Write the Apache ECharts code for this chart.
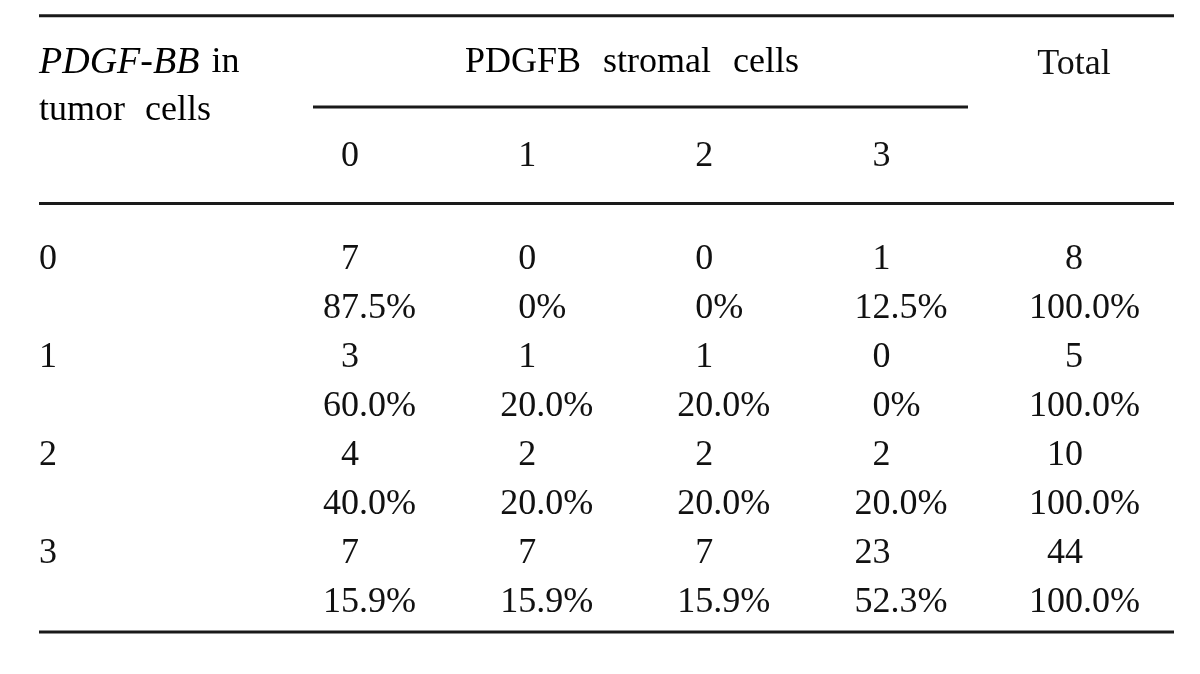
<!DOCTYPE html>
<html><head><meta charset="utf-8">
<script src="https://cdn.jsdelivr.net/npm/echarts@6/dist/echarts.min.js"></script>
<style>html,body{margin:0;padding:0;background:#fff}#c{width:1200px;height:674px}</style>
</head><body><div id="c"></div>
<script>
// ---- data ----
const rowLabels = ['0', '1', '2', '3'];
const colLabels = ['0', '1', '2', '3'];
const totalLabel = ['Total'];
const counts = [[7, 0, 0, 1], [3, 1, 1, 0], [4, 2, 2, 2], [7, 7, 7, 23]];
const percents = [[87.5, 0, 0, 12.5], [60.0, 20.0, 20.0, 0], [40.0, 20.0, 20.0, 20.0], [15.9, 15.9, 15.9, 52.3]];
const totals = [8, 5, 10, 44];
const totalPercents = [100.0, 100.0, 100.0, 100.0];
const rowHeaderItalic = 'PDGF-BB';
const rowHeaderRest = 'in';
const rowHeaderLine2 = 'tumor cells';
const groupHeader = 'PDGFB stromal cells';

// ---- style ----
const FONT = 'Liberation Serif';
const FS = 36;
const INK = '#111111';
const HALF_DIGIT = FS * 0.25;

function fmtPct(v) { return v === 0 ? '0%' : v.toFixed(1) + '%'; }
function parts(t) { const m = t.match(/^(\d+)(.*)$/); return [m[1], m[2]]; }

const subRows = rowLabels.flatMap(r => [r + '|n', r + '|p']);

// split every cell text at the end of its integer part (decimal alignment)
const cellInt = [], cellFrac = [], totInt = [], totFrac = [];
function addCell(intArr, fracArr, x, y, text) {
  const [a, b] = parts(text);
  intArr.push({ value: [x, y], txt: a });
  if (b) fracArr.push({ value: [x, y], txt: b });
}
rowLabels.forEach((r, ri) => {
  colLabels.forEach((c, ci) => {
    addCell(cellInt, cellFrac, ci, 2 * ri, String(counts[ri][ci]));
    addCell(cellInt, cellFrac, ci, 2 * ri + 1, fmtPct(percents[ri][ci]));
  });
  addCell(totInt, totFrac, 0, 2 * ri, String(totals[ri]));
  addCell(totInt, totFrac, 0, 2 * ri + 1, fmtPct(totalPercents[ri]));
});

const txt = { fontFamily: FONT, fontSize: FS, color: INK };
const mkLabel = align => Object.assign({
  show: true, position: 'inside', align: align, verticalAlign: 'middle',
  offset: [HALF_DIGIT, 0], opacity: 1,
  formatter: p => p.data.txt
}, txt);

const TOP = 235, H = 392;
const chart = echarts.init(document.getElementById('c'), null, { renderer: 'canvas' });
const L = 3;
const rule = (x1, x2, y) => ({ type: 'line', shape: { x1, y1: y, x2, y2: y }, style: { stroke: '#1a1a1a', lineWidth: L }, silent: true });
const textSeries = (xi, data, align) => ({
  type: 'scatter', xAxisIndex: xi, yAxisIndex: xi, symbolSize: 0, silent: true,
  itemStyle: { opacity: 1 }, data: data, label: mkLabel(align), emphasis: { disabled: true }
});

chart.setOption({
  animation: false,
  backgroundColor: '#ffffff',
  grid: [
    { left: 261.5, width: 708.5, top: TOP, height: H, outerBoundsMode: 'none' },
    { left: 974, width: 200, top: TOP, height: H, outerBoundsMode: 'none' }
  ],
  xAxis: [
    { gridIndex: 0, type: 'category', data: colLabels, position: 'top', boundaryGap: true,
      axisLine: { show: false }, axisTick: { show: false }, splitLine: { show: false },
      axisLabel: Object.assign({ margin: 60.2 }, txt) },
    { gridIndex: 1, type: 'category', data: totalLabel, position: 'top', boundaryGap: true,
      axisLine: { show: false }, axisTick: { show: false }, splitLine: { show: false },
      axisLabel: Object.assign({ margin: 152.2 }, txt) }
  ],
  yAxis: [
    { gridIndex: 0, type: 'category', data: subRows, inverse: true, boundaryGap: true,
      axisLine: { show: false }, axisTick: { show: false }, splitLine: { show: false },
      axisLabel: Object.assign({ align: 'left', margin: 222.5,
        formatter: v => v.endsWith('|n') ? v.split('|')[0] : '' }, txt) },
    { gridIndex: 1, type: 'category', data: subRows, inverse: true, boundaryGap: true, show: false }
  ],
  series: [
    textSeries(0, cellInt, 'right'),
    textSeries(0, cellFrac, 'left'),
    textSeries(1, totInt, 'right'),
    textSeries(1, totFrac, 'left')
  ],
  graphic: [
    rule(39, 1174, 15.8),
    rule(313, 968, 107),
    rule(39, 1174, 203.5),
    rule(39, 1174, 632),
    { type: 'text', x: 39, y: 63, silent: true,
      style: { text: '{it|' + rowHeaderItalic + '}{s| }{n|' + rowHeaderRest + '}', verticalAlign: 'middle',
        rich: { it: Object.assign({}, txt, { fontStyle: 'italic', fontSize: 38 }), n: txt, s: Object.assign({ width: 12 }, txt) } } },
    { type: 'text', x: 39, y: 111, silent: true,
      style: { text: rowHeaderLine2.split(' ').map(w => '{w|' + w + '}').join('{s| }'), verticalAlign: 'middle',
        rich: { w: txt, s: Object.assign({ width: 20 }, txt) } } },
    { type: 'text', x: 632, y: 63, silent: true,
      style: { text: groupHeader.split(' ').map(w => '{w|' + w + '}').join('{s| }'),
        align: 'center', verticalAlign: 'middle',
        rich: { w: txt, s: Object.assign({ width: 22 }, txt) } } }
  ]
});
</script></body></html>
